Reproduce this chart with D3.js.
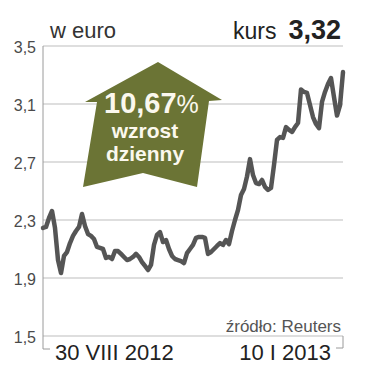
<!DOCTYPE html>
<html>
<head>
<meta charset="utf-8">
<script src="https://cdn.jsdelivr.net/npm/d3@7"></script>
<style>
  body { margin: 0; background: #fff; }
  svg text { font-family: "Liberation Sans", Arial, sans-serif; }
</style>
</head>
<body>
<svg id="chart" width="381" height="372"></svg>
<script>
// kurs w euro, notowania dzienne 30 VIII 2012 - 10 I 2013
var kurs = [
	2.245, 2.252, 2.314, 2.362, 2.245, 2.024, 1.934, 2.052, 2.079, 2.141,
	2.190, 2.224, 2.252, 2.341, 2.259, 2.203, 2.190, 2.169, 2.114, 2.107,
	2.100, 2.038, 2.045, 2.031, 2.086, 2.086, 2.066, 2.045, 2.024, 2.031,
	2.045, 2.066, 2.045, 2.010, 1.983, 1.955, 1.990, 2.128, 2.197, 2.217,
	2.148, 2.162, 2.100, 2.052, 2.031, 2.024, 2.017, 2.003, 2.072, 2.100,
	2.128, 2.176, 2.183, 2.183, 2.176, 2.066, 2.079, 2.100, 2.121, 2.141,
	2.128, 2.162, 2.134, 2.224, 2.300, 2.369, 2.472, 2.514, 2.600, 2.720,
	2.610, 2.555, 2.548, 2.576, 2.528, 2.507, 2.521, 2.679, 2.852, 2.872,
	2.866, 2.941, 2.921, 2.907, 2.941, 2.969, 3.200, 3.183, 3.176, 3.093,
	3.010, 2.962, 2.934, 3.114, 3.183, 3.238, 3.279, 3.148, 3.020, 3.090,
	3.32
]
var yTicks = [1.5, 1.9, 2.3, 2.7, 3.1, 3.5]
var dateLabels = ["30 VIII 2012", "10 I 2013"]
var change = "10,67"

var svg = d3.select("#chart")
var m = {left: 43, right: 343, top: 46, bottom: 336}

var x = d3.scaleLinear().domain([0, kurs.length - 1]).range([m.left, m.right])
var y = d3.scaleLinear().domain([1.5, 3.5]).range([m.bottom, m.top])
var fmt = function(d) { return d3.format(".1f")(d).replace(".", ",") }
var fmt2 = function(d) { return d3.format(".2f")(d).replace(".", ",") }

// siatka
svg.selectAll(".grid")
	.data(yTicks)
	.enter().append("line")
	.attr("class", "grid")
	.attr("x1", m.left).attr("x2", m.right)
	.attr("y1", function(d) { return y(d) }).attr("y2", function(d) { return y(d) })
	.attr("stroke", "#bdbdbd").attr("stroke-width", 1)

svg.selectAll(".tick")
	.data(yTicks)
	.enter().append("text")
	.attr("class", "tick")
	.attr("x", 36).attr("y", function(d) { return y(d) + 7 })
	.attr("text-anchor", "end")
	.attr("font-size", 16).attr("fill", "#4a4a4a")
	.text(fmt)

// osie (klamra na dole)
svg.append("path")
	.attr("d", "M" + m.left + "," + m.top + "V" + (m.bottom + 13) + "H" + (m.left + 7))
	.attr("fill", "none").attr("stroke", "#9a9a9a").attr("stroke-width", 1)
svg.append("path")
	.attr("d", "M" + m.right + "," + m.bottom + "V" + (m.bottom + 12) + "H" + (m.right - 7))
	.attr("fill", "none").attr("stroke", "#9a9a9a").attr("stroke-width", 1)

svg.append("text")
	.attr("x", x(0) + 12).attr("y", 360)
	.attr("font-size", 22).attr("fill", "#222")
	.text(dateLabels[0])
svg.append("text")
	.attr("x", x(kurs.length - 1) - 12).attr("y", 360)
	.attr("text-anchor", "end")
	.attr("font-size", 22).attr("fill", "#222")
	.text(dateLabels[1])

// linia
var line = d3.line()
	.x(function(d, i) { return x(i) })
	.y(function(d) { return y(d) })

svg.append("path")
	.datum(kurs)
	.attr("d", line)
	.attr("fill", "none")
	.attr("stroke", "#555")
	.attr("stroke-width", 4.5)
	.attr("stroke-linejoin", "round")
	.attr("stroke-linecap", "round")

// strzalka
svg.append("path")
	.attr("d", "M158,62 L222,100 L209,101 L197,187 L143,173 L83,187 L97,102 L85,102 Z")
	.attr("fill", "#6b7435")

var pct = svg.append("text")
	.attr("x", 104).attr("y", 113)
	.attr("fill", "#fbf8ee")
pct.append("tspan").attr("font-size", 29).attr("font-weight", "bold").text(change)
pct.append("tspan").attr("font-size", 25).text("%")

svg.append("text")
	.attr("x", 145).attr("y", 138)
	.attr("text-anchor", "middle")
	.attr("font-size", 21).attr("font-weight", "bold").attr("fill", "#fbf8ee")
	.text("wzrost")
svg.append("text")
	.attr("x", 145).attr("y", 161)
	.attr("text-anchor", "middle")
	.attr("font-size", 21).attr("font-weight", "bold").attr("fill", "#fbf8ee")
	.text("dzienny")

// naglowki
svg.append("text")
	.attr("x", 50).attr("y", 38)
	.attr("font-size", 22).attr("fill", "#333")
	.text("w euro")
var head = svg.append("text")
	.attr("x", 341).attr("y", 39)
	.attr("text-anchor", "end")
	.attr("fill", "#222")
head.append("tspan").attr("font-size", 23).text("kurs")
head.append("tspan").attr("font-size", 27).attr("font-weight", "bold").attr("dx", 12).text(fmt2(kurs[kurs.length - 1]))

svg.append("text")
	.attr("x", 341).attr("y", 332)
	.attr("text-anchor", "end")
	.attr("font-size", 17).attr("fill", "#555")
	.text("źródło: Reuters")
</script>
</body>
</html>
